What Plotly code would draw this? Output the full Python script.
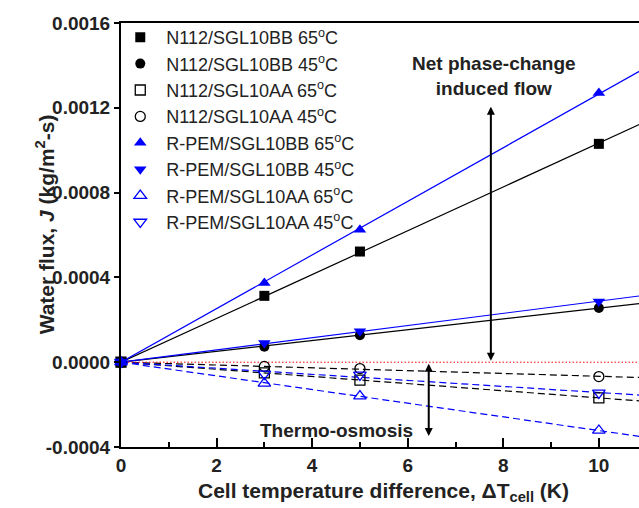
import numpy as np
import plotly.graph_objects as go

# ---------------- data ----------------
DT = [0, 3, 5, 10]  # cell temperature difference (K)

N112_BB_65 = [0, 0.000313, 0.000522, 0.00103]
N112_BB_45 = [0, 0.000073, 0.000127, 0.000256]
N112_AA_65 = [0, -0.00005, -0.000085, -0.000168]
N112_AA_45 = [0, -0.00002, -0.00003, -0.000068]
RPEM_BB_65 = [0, 0.000374, 0.000625, 0.00127]
RPEM_BB_45 = [0, 0.00009, 0.000146, 0.000286]
RPEM_AA_65 = [0, -0.0001, -0.00016, -0.000322]
RPEM_AA_45 = [0, -0.000055, -0.00006, -0.000145]

NAMES = [
    "N112/SGL10BB 65<sup>o</sup>C",
    "N112/SGL10BB 45<sup>o</sup>C",
    "N112/SGL10AA 65<sup>o</sup>C",
    "N112/SGL10AA 45<sup>o</sup>C",
    "R-PEM/SGL10BB 65<sup>o</sup>C",
    "R-PEM/SGL10BB 45<sup>o</sup>C",
    "R-PEM/SGL10AA 65<sup>o</sup>C",
    "R-PEM/SGL10AA 45<sup>o</sup>C",
]
SERIES = [N112_BB_65, N112_BB_45, N112_AA_65, N112_AA_45,
          RPEM_BB_65, RPEM_BB_45, RPEM_AA_65, RPEM_AA_45]

X_RANGE = [0, 10.84]
Y_RANGE = [-0.0004, 0.0016]
Y_TICKS = [-0.0004, 0.0, 0.0004, 0.0008, 0.0012, 0.0016]
Y_TICK_LABELS = ["-0.0004", "0.0000", "0.0004", "0.0008", "0.0012", "0.0016"]
X_TICKS = [0, 2, 4, 6, 8, 10]
X_TICK_LABELS = ["0", "2", "4", "6", "8", "10"]

# annotation anchors (data coords)
NET_ARROW_X = 7.74
NET_ARROW_TOP = 0.001205
THERMO_ARROW_X = 6.44
THERMO_ARROW_BOTTOM = -0.000348

# ---------------- styles ----------------
BLUE = "#0000FF"
BLACK = "#000000"
TXT = "#222222"
FONT = "Liberation Sans"
STYLES = [
    dict(symbol="square", color=BLACK, size=10, dash="solid"),
    dict(symbol="circle", color=BLACK, size=10, dash="solid"),
    dict(symbol="square-open", color=BLACK, size=10, dash="7px,4px"),
    dict(symbol="circle-open", color=BLACK, size=10, dash="7px,4px"),
    dict(symbol="triangle-up", color=BLUE, size=11, dash="solid"),
    dict(symbol="triangle-down", color=BLUE, size=11, dash="solid"),
    dict(symbol="triangle-up-open", color=BLUE, size=11, dash="7px,4px"),
    dict(symbol="triangle-down-open", color=BLUE, size=11, dash="7px,4px"),
]

fig = go.Figure()

x = np.array(DT, dtype=float)
x_line = np.array([0.0, 12.0])

# fitted lines (through origin)
for ys, st in zip(SERIES, STYLES):
    y = np.array(ys, dtype=float)
    slope = float(np.sum(x * y) / np.sum(x * x))
    fig.add_trace(go.Scatter(
        x=x_line, y=slope * x_line, mode="lines",
        line=dict(color=st["color"], width=1.2, dash=st["dash"]),
        showlegend=False, hoverinfo="skip"))

# zero reference
fig.add_trace(go.Scatter(
    x=[0, 12], y=[0, 0], mode="lines",
    line=dict(color="#FF0000", width=1, dash="1.5px,2px"),
    showlegend=False, hoverinfo="skip"))

# markers
for ys, st, nm in zip(SERIES, STYLES, NAMES):
    open_ = st["symbol"].endswith("open")
    fig.add_trace(go.Scatter(
        x=DT, y=ys, mode="markers", name=nm, cliponaxis=False,
        marker=dict(symbol=st["symbol"], size=st["size"], color=st["color"],
                    line=dict(color=st["color"], width=1.3 if open_ else 0))))

annotations = [
    dict(x=NET_ARROW_X, y=NET_ARROW_TOP, ax=NET_ARROW_X, ay=0.0,
         xref="x", yref="y", axref="x", ayref="y", text="", showarrow=True,
         arrowhead=2, arrowside="end+start", arrowsize=0.8, arrowwidth=2,
         arrowcolor=BLACK),
    dict(x=THERMO_ARROW_X, y=THERMO_ARROW_BOTTOM, ax=THERMO_ARROW_X, ay=0.0,
         xref="x", yref="y", axref="x", ayref="y", text="", showarrow=True,
         arrowhead=2, arrowside="end+start", arrowsize=0.8, arrowwidth=2,
         arrowcolor=BLACK),
    dict(x=7.8, y=0.00135, xref="x", yref="y", showarrow=False,
         text="<b>Net phase-change<br>induced flow</b>",
         font=dict(family=FONT, size=19, color=TXT), align="center"),
    dict(x=4.52, y=-0.000322, xref="x", yref="y", showarrow=False,
         text="<b>Thermo-osmosis</b>",
         font=dict(family=FONT, size=19, color=TXT)),
    dict(x=(30 - 120.7) / 518.3, y=(447.3 - 224) / 424.6, xref="paper", yref="paper",
         showarrow=False, textangle=-90,
         text="<b>Water flux, <i>J</i> (kg/m<sup>2</sup>-s)</b>",
         font=dict(family=FONT, size=21, color=TXT)),
    dict(x=(383 - 120.7) / 518.3, y=-(477 - 447.3) / 424.6, xref="paper", yref="paper",
         yanchor="top", showarrow=False,
         text="<b>Cell temperature difference, \u0394T<sub>cell</sub> (K)</b>",
         font=dict(family=FONT, size=21, color=TXT)),
]

fig.update_layout(
    width=639, height=508,
    margin=dict(l=120.7, r=0, t=22.7, b=60.7, autoexpand=False),
    plot_bgcolor="white", paper_bgcolor="white",
    showlegend=True,
    legend=dict(x=-0.013, y=1.0094, xanchor="left", yanchor="top",
                bgcolor="rgba(0,0,0,0)", itemwidth=42,
                font=dict(family=FONT, size=18, color=TXT)),
    annotations=annotations,
    xaxis=dict(range=X_RANGE, tickvals=X_TICKS, ticktext=X_TICK_LABELS,
               ticks="inside", ticklen=9, tickwidth=2, tickcolor=BLACK,
               minor=dict(dtick=1, tick0=0, ticks="inside", ticklen=5,
                          tickwidth=2, tickcolor=BLACK),
               showline=True, linewidth=2, linecolor=BLACK, mirror=True,
               showgrid=False, zeroline=False,
               tickfont=dict(family=FONT, size=19, color=TXT, weight="bold")),
    yaxis=dict(range=Y_RANGE, tickvals=Y_TICKS, ticktext=Y_TICK_LABELS,
               ticks="outside", ticklen=5, tickwidth=2, tickcolor=BLACK,
               showline=True, linewidth=2, linecolor=BLACK, mirror=False,
               showgrid=False, zeroline=False,
               tickfont=dict(family=FONT, size=19, color=TXT, weight="bold")),
)

fig.write_html("out.html")
